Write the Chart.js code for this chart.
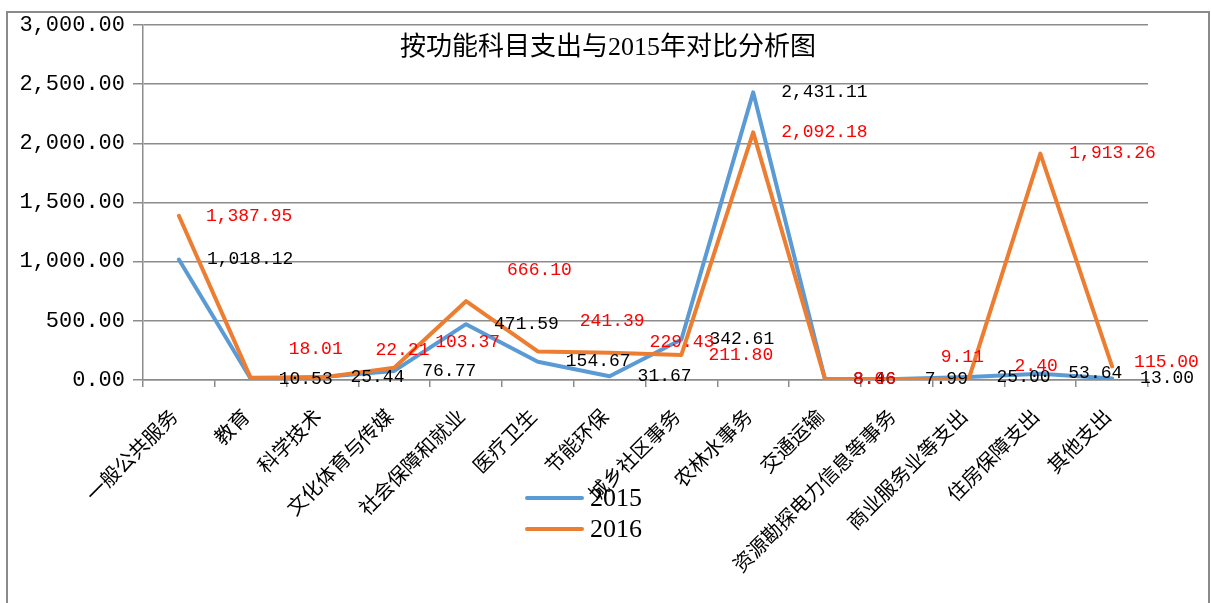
<!DOCTYPE html>
<html>
<head>
<meta charset="utf-8">
<script src="https://cdn.jsdelivr.net/npm/chart.js@4/dist/chart.umd.min.js"></script>
<style>
  html, body { margin: 0; padding: 0; background: #ffffff; overflow: hidden; }
  #wrap { width: 1211px; height: 603px; }
</style>
</head>
<body>
<div id="wrap"><canvas id="c" width="1211" height="603"></canvas></div>
<script>
// ---- data ----
const titleText = '按功能科目支出与2015年对比分析图';
const categories = ['一般公共服务', '教育', '科学技术', '文化体育与传媒', '社会保障和就业', '医疗卫生', '节能环保', '城乡社区事务', '农林水事务', '交通运输', '资源勘探电力信息等事务', '商业服务业等支出', '住房保障支出', '其他支出'];
const seriesNames = ['2015', '2016'];
const values2015 = [1018.12, 10.53, 25.44, 76.77, 471.59, 154.67, 31.67, 342.61, 2431.11, 8.46, 7.99, 25.00, 53.64, 13.00];
const values2016 = [1387.95, 18.01, 22.21, 103.37, 666.10, 241.39, 229.43, 211.80, 2092.18, 8.06, 9.11, 2.40, 1913.26, 115.00];
const yTicks = [0, 500, 1000, 1500, 2000, 2500, 3000];

// ---- label placement (pixels relative to point) ----
const labelDx2015 = [28, 28, 28, 28, 28, 28, 28, 28, 28, 28, 28, 28, 28, 28];
const labelDy2015 = [0, 0, 0, 0, 0, 0, 0, 0, 0, 0, 0, 0, 0, 0];
const labelDx2016 = [27, 38, 53, 41, 41, 42, 40, 27, 28, 28, 44, 46, 29, 22];
const labelDy2016 = [0, -29, -27, -26, -31, -30, -11, 0, 0, 0, -22, -13, 0, -4];

const BLUE = '#5B9BD5';
const ORANGE = '#ED7D31';
const GRID = '#8c8c8c';
const NUMFONT = "'Liberation Mono', monospace";

function fmt(v) {
  return v.toLocaleString('en-US', { minimumFractionDigits: 2, maximumFractionDigits: 2 });
}

const labelPlugin = {
  id: 'valueLabels',
  afterDatasetsDraw(chart) {
    const ctx = chart.ctx;
    const cfg = [
      { dx: labelDx2015, dy: labelDy2015, color: '#000000' },
      { dx: labelDx2016, dy: labelDy2016, color: '#FF0000' }
    ];
    ctx.save();
    ctx.font = '18px ' + NUMFONT;
    ctx.textAlign = 'left';
    ctx.textBaseline = 'middle';
    chart.data.datasets.forEach((ds, di) => {
      const meta = chart.getDatasetMeta(di);
      ctx.fillStyle = cfg[di].color;
      meta.data.forEach((pt, i) => {
        ctx.fillText(fmt(ds.data[i]), pt.x + cfg[di].dx[i], pt.y + cfg[di].dy[i]);
      });
    });
    ctx.restore();
  }
};

const decorPlugin = {
  id: 'decor',
  afterDraw(chart) {
    const ctx = chart.ctx;
    ctx.save();
    // outer frame
    ctx.strokeStyle = '#8a8a8a';
    ctx.lineWidth = 2;
    ctx.strokeRect(7, 12, 1202, 640);
    // title
    ctx.fillStyle = '#000000';
    ctx.font = "26px 'Liberation Serif', 'Noto Sans CJK SC'";
    ctx.textAlign = 'center';
    ctx.textBaseline = 'middle';
    ctx.fillText(titleText, 608, 48);
    // legend
    const rows = [498, 529];
    chart.data.datasets.forEach((ds, i) => {
      ctx.strokeStyle = ds.borderColor;
      ctx.lineWidth = 4;
      ctx.lineCap = 'round';
      ctx.beginPath();
      ctx.moveTo(527, rows[i]);
      ctx.lineTo(582, rows[i]);
      ctx.stroke();
      ctx.fillStyle = '#000000';
      ctx.font = "26px 'Liberation Serif'";
      ctx.textAlign = 'left';
      ctx.textBaseline = 'middle';
      ctx.fillText(ds.label, 590, rows[i] + 1);
    });
    ctx.restore();
  }
};

new Chart(document.getElementById('c'), {
  type: 'line',
  data: {
    labels: categories,
    datasets: [
      { label: seriesNames[0], data: values2015, borderColor: BLUE, backgroundColor: BLUE, borderWidth: 4, pointRadius: 0, tension: 0, order: 2, borderJoinStyle: 'round', borderCapStyle: 'round' },
      { label: seriesNames[1], data: values2016, borderColor: ORANGE, backgroundColor: ORANGE, borderWidth: 4, pointRadius: 0, tension: 0, order: 1, borderJoinStyle: 'round', borderCapStyle: 'round' }
    ]
  },
  options: {
    responsive: false,
    devicePixelRatio: 1,
    animation: false,
    layout: { padding: { top: 25, right: 63, left: 0, bottom: 0 } },
    plugins: {
      legend: { display: false },
      title: { display: false },
      tooltip: { enabled: false }
    },
    scales: {
      x: {
        type: 'category',
        offset: true,
        afterFit(s) { s.height = 223; },
        grid: { offset: true, drawOnChartArea: false, drawTicks: true, tickLength: 7, color: GRID, lineWidth: 1.5 },
        border: { display: true, color: GRID, width: 1.5 },
        ticks: {
          autoSkip: false, maxRotation: 45, minRotation: 45,
          padding: 17, labelOffset: -5,
          color: '#000000',
          font: { family: "'Noto Sans CJK SC'", size: 20 }
        }
      },
      y: {
        min: 0, max: 3000,
        afterFit(s) { s.width = 143; },
        afterBuildTicks(s) { s.ticks = yTicks.map(v => ({ value: v })); },
        grid: { color: GRID, lineWidth: 1.5, tickLength: 10, drawTicks: true },
        border: { display: true, color: GRID, width: 1.5 },
        ticks: {
          padding: 8,
          color: '#000000',
          font: { family: NUMFONT, size: 22 },
          callback: (v) => fmt(v)
        }
      }
    }
  },
  plugins: [labelPlugin, decorPlugin]
});
</script>
</body>
</html>
